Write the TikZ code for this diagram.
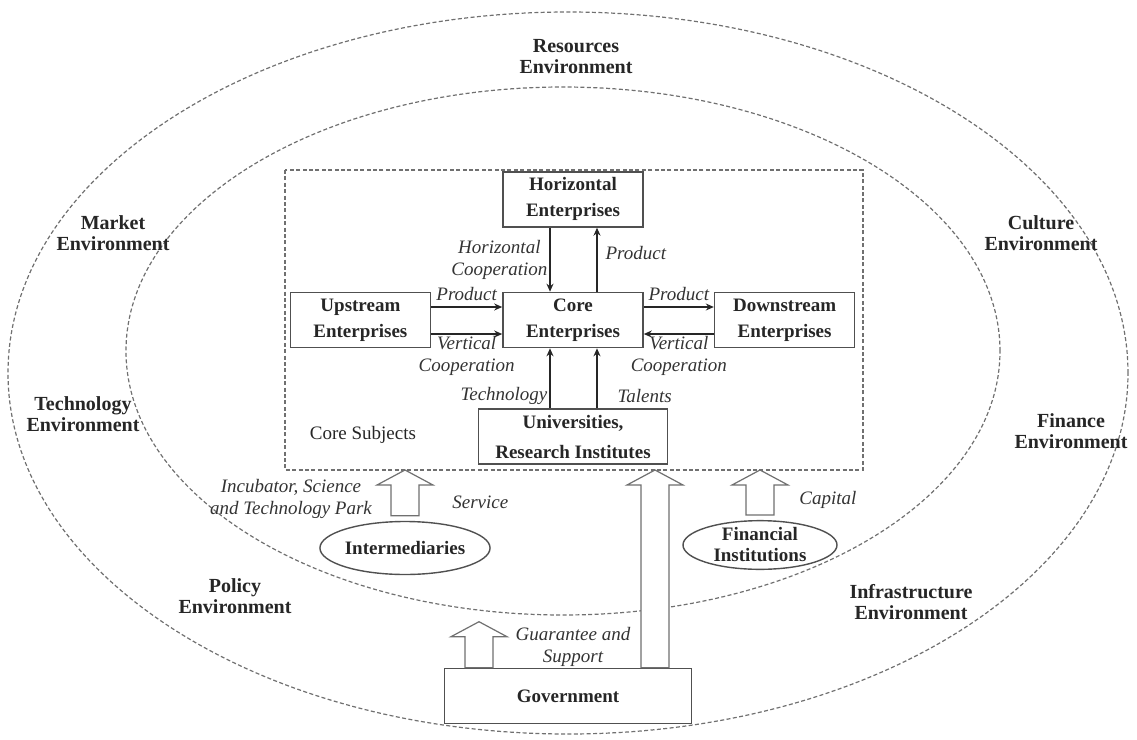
\documentclass[tikz,border=0pt]{standalone}
\usepackage{fontspec}
\setmainfont{Liberation Serif}
\usetikzlibrary{positioning,shapes.geometric,arrows.meta,calc}
\definecolor{framegray}{HTML}{707070}
\definecolor{boxgray}{HTML}{505050}
\newcommand{\fatarrow}[2]{%
  \draw[fatarrow] let \p1=(#1), \p2=(#2) in
    (\x1-7pt,\y1) -- (\x1-7pt,\y2-7.5pt) -- (\x1-14pt,\y2-7.5pt) -- (\x1,\y2)
    -- (\x1+14pt,\y2-7.5pt) -- (\x1+7pt,\y2-7.5pt) -- (\x1+7pt,\y1) -- cycle;}

\tikzset{
  envline/.style={draw=framegray, line width=0.6pt, dash pattern=on 2pt off 1.2pt},
  envlabel/.style={font=\fontsize{10}{10.5}\selectfont\bfseries, align=center, text=black!85},
  entity/.style={draw=boxgray, line width=0.8pt, minimum width=70pt, minimum height=27.5pt,
    align=center, inner sep=1pt, font=\fontsize{9.5}{13}\selectfont\bfseries, text=black!85},
  agency/.style={ellipse, draw=boxgray, line width=0.7pt, inner sep=0pt, align=center,
    font=\fontsize{9.5}{10.5}\selectfont\bfseries, text=black!85},
  flow/.style={draw=black!85, line width=0.6pt, -{Stealth[length=4pt,width=3.5pt]}},
  flowlabel/.style={font=\fontsize{9.5}{11}\selectfont\itshape, align=center, inner sep=1pt, text=black!80},
  fatarrow/.style={draw=framegray, fill=white, line width=0.6pt, line join=miter},
}

\begin{document}
\begin{tikzpicture}[x=0.5pt, y=-0.5pt]
  \useasboundingbox (0,0) rectangle (1137,740);

  % environment rings
  \draw[envline] (568,373) ellipse [x radius=280pt, y radius=180.5pt];
  \draw[envline] (563,351) ellipse [x radius=218.5pt, y radius=132pt];
  \coordinate (frameNW) at (285,170);
  \coordinate (frameSE) at (863,470);
  \draw[envline] (frameNW) rectangle (frameSE);

  % environment labels
  \node[envlabel] (resenv) at (576,57) {Resources\\Environment};
  \node[envlabel] (mktenv) at (113,233) {Market\\Environment};
  \node[envlabel] (culenv) at (1041,233) {Culture\\Environment};
  \node[envlabel] (tecenv) at (83,414) {Technology\\Environment};
  \node[envlabel] (finenv) at (1071,431) {Finance\\Environment};
  \node[envlabel] (polenv) at (235,596) {Policy\\Environment};
  \node[envlabel] (infenv) at (911,602) {Infrastructure\\Environment};

  % core subjects
  \node[entity] (core) at (573,320) {Core\\Enterprises};
  \node[entity, above=32pt of core] (horiz) {Horizontal\\Enterprises};
  \node[entity, left=35.5pt of core] (upstream) {Upstream\\Enterprises};
  \node[entity, right=35pt of core] (downstream) {Downstream\\Enterprises};
  \node[entity, below=30pt of core, minimum width=94.5pt, font=\fontsize{9.5}{15}\selectfont\bfseries] (univ) {Universities,\\Research Institutes};
  \node[font=\fontsize{9.5}{11}\selectfont, text=black!85] (subjects) at (363,435) {Core Subjects};

  \draw[flow] ([xshift=-11.5pt]horiz.south) -- node[flowlabel, left] {Horizontal\\Cooperation} ([xshift=-11.5pt]core.north);
  \draw[flow] ([xshift=12pt]core.north) -- node[flowlabel, right, xshift=3pt, pos=0.6] {Product} ([xshift=12pt]horiz.south);
  \draw[flow] ([yshift=6.5pt]upstream.east) -- node[flowlabel, above, yshift=2pt] {Product} ([yshift=6.5pt]core.west);
  \draw[flow] ([yshift=-7pt]upstream.east) -- node[flowlabel, below] {Vertical\\Cooperation} ([yshift=-7pt]core.west);
  \draw[flow] ([yshift=6.5pt]core.east) -- node[flowlabel, above, yshift=2pt] {Product} ([yshift=6.5pt]downstream.west);
  \draw[flow] ([yshift=-7pt]downstream.west) -- node[flowlabel, below] {Vertical\\Cooperation} ([yshift=-7pt]core.east);
  \draw[flow] ([xshift=-11.5pt]univ.north -| core) -- node[flowlabel, left, pos=0.2] {Technology} ([xshift=-11.5pt]core.south);
  \draw[flow] ([xshift=12pt]univ.north -| core) -- node[flowlabel, right, xshift=9pt, pos=0.2] {Talents} ([xshift=12pt]core.south);

  % supporting subjects
  \node[agency, minimum width=75pt, minimum height=26.5pt] (inter) at (405,548) {Intermediaries};
  \node[agency, minimum width=77pt, minimum height=24pt] (fininst) at (760,545) {Financial\\Institutions};
  \node[entity, minimum width=123.5pt] (gov) at (568,696) {Government};
  \coordinate (govL) at ([xshift=-44.5pt]gov.north);
  \coordinate (govR) at ([xshift=43.5pt]gov.north);
  \coordinate (govLtip) at ([yshift=23pt]govL);

  \fatarrow{[yshift=2.5pt]inter.north}{inter.north |- frameSE}
  \fatarrow{[yshift=2.5pt]fininst.north}{fininst.north |- frameSE}
  \fatarrow{govL}{govLtip}
  \fatarrow{govR}{govR |- frameSE}

  \node[flowlabel] (incub) at (291,499) {Incubator, Science\\and Technology Park};
  \node[flowlabel, anchor=west] (service) at (450,502) {Service};
  \node[flowlabel, anchor=west] (capital) at (797,500) {Capital};
  \node[flowlabel] (guarantee) at (573,647) {Guarantee and\\Support};
\end{tikzpicture}
\end{document}
